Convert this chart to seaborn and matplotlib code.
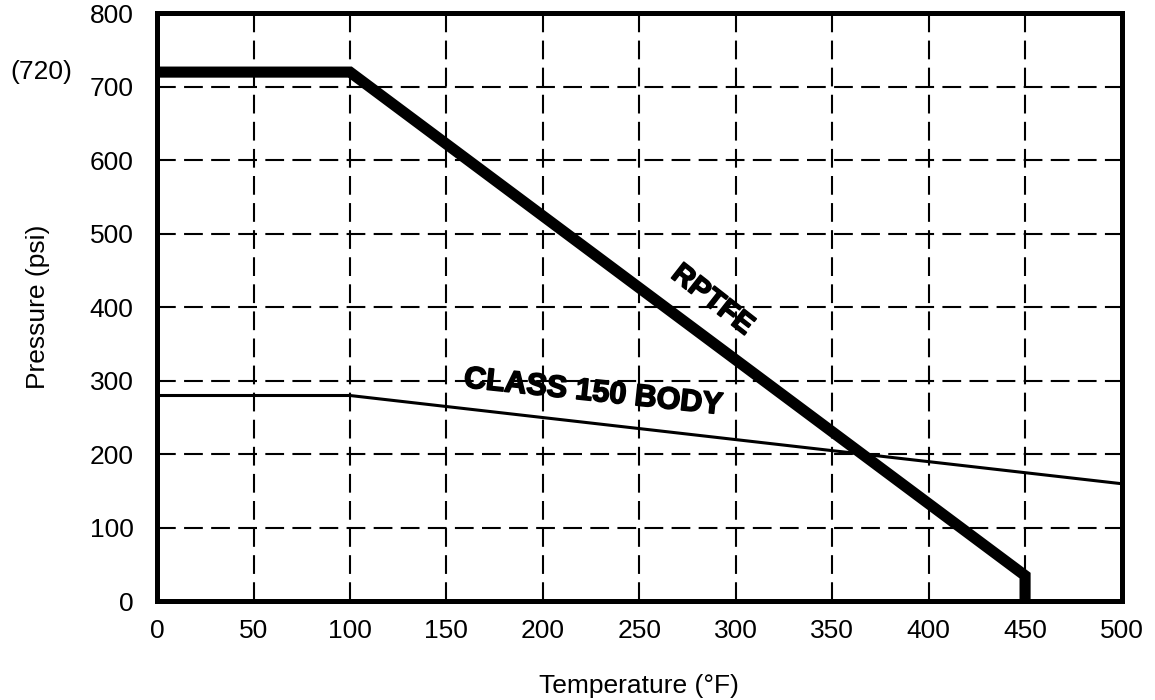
import matplotlib
matplotlib.use("Agg")
import matplotlib.pyplot as plt
import matplotlib.patheffects as pe
import matplotlib.transforms as mtrans
import seaborn as sns
import pandas as pd

# Data
rptfe_temp = [0, 100, 450, 450]
rptfe_press = [720, 720, 35, 0]
body_temp = [0, 100, 500]
body_press = [280, 280, 160]
x_ticks = [0, 50, 100, 150, 200, 250, 300, 350, 400, 450, 500]
y_ticks = [0, 100, 200, 300, 400, 500, 600, 700, 800]

sns.set_style("white")
plt.rcParams['font.family'] = ['Liberation Sans', 'DejaVu Sans']
plt.rcParams['text.color'] = 'black'
plt.rcParams['axes.labelcolor'] = 'black'

fig = plt.figure(figsize=(11.55, 7), dpi=100)
ax = fig.add_axes([0.136, 0.141, 0.835, 0.840])

df_r = pd.DataFrame({"t": rptfe_temp, "p": rptfe_press})
df_b = pd.DataFrame({"t": body_temp, "p": body_press})

sns.lineplot(data=df_b, x="t", y="p", sort=False, estimator=None, ax=ax,
             color="black", lw=2.2, zorder=3)
sns.lineplot(data=df_r, x="t", y="p", sort=False, estimator=None, ax=ax,
             color="black", lw=8, zorder=4, solid_joinstyle="miter",
             solid_capstyle="butt")

ax.set_xlim(0, 500)
ax.set_ylim(0, 800)
ax.set_xticks(x_ticks)
ax.set_yticks(y_ticks)
ax.tick_params(axis="both", length=0, labelsize=19, colors="black")
ax.tick_params(axis="x", pad=13)
ax.tick_params(axis="y", pad=17)

ax.grid(True, color="black", lw=1.5, dashes=(9, 4), zorder=1)
ax.set_axisbelow(True)
for s in ax.spines.values():
    s.set_visible(True)
    s.set_color("black")
    s.set_linewidth(3.6)
    s.set_zorder(5)

ax.set_xlabel("Temperature (°F)", fontsize=19, labelpad=22, color="black")
ax.set_ylabel("Pressure (psi)", fontsize=19, color="black")
ax.yaxis.set_label_coords(
    38 / 1155, 0.5,
    transform=mtrans.blended_transform_factory(fig.transFigure, ax.transAxes))
ax.yaxis.label.set_va("center")

ax.text(-44, 720, "(720)", fontsize=19, ha="right", va="center",
        clip_on=False, color="black")

heavy = [pe.withStroke(linewidth=1.2, foreground="black")]
ax.text(288, 410, "RPTFE", fontsize=21, fontweight="bold", rotation=-38,
        ha="center", va="center", rotation_mode="anchor", color="black",
        path_effects=heavy, zorder=6)
ax.text(226, 284, "CLASS 150 BODY", fontsize=22, fontweight="bold", rotation=-6,
        ha="center", va="center", rotation_mode="anchor", color="black",
        path_effects=heavy, zorder=6)

fig.savefig("out.png", dpi=100)
